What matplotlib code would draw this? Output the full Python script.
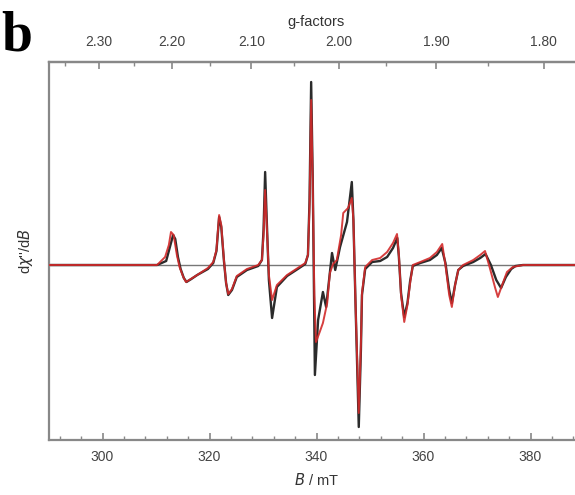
import matplotlib

matplotlib.use("Agg")
import matplotlib.pyplot as plt
from matplotlib.ticker import MultipleLocator, FixedLocator, FormatStrFormatter

# field values (mT) and derivative intensity (a.u.)
exp_field = [
    290.0, 300.0, 310.2, 311.9, 312.6, 313.2, 313.6, 314.1, 314.6, 315.2, 315.7,
    316.6, 317.7, 319.7, 320.7, 321.3, 321.8, 322.2, 322.7, 323.1, 323.5,
    324.2, 325.1, 327.0, 329.1, 329.8, 330.1, 330.4, 330.7, 331.1, 331.7,
    332.6, 334.5, 336.5, 337.9, 338.4, 338.7, 339.0, 339.3, 339.7, 340.3,
    341.2, 341.8, 342.9, 343.5, 344.4, 345.7, 346.6, 346.9, 347.3, 347.9,
    348.3, 348.5, 349.1, 350.4, 351.9, 353.2, 354.3, 355.1, 355.4, 355.8,
    356.4, 357.0, 357.5, 358.0, 359.4, 361.2, 362.5, 363.4, 364.1, 364.8,
    365.3, 365.9, 366.5, 367.4, 369.3, 370.6, 371.6, 372.6, 373.6, 374.5,
    375.4, 376.4, 377.2, 378.6, 390.0,
]
exp_signal = [
    0.00, 0.00, 0.00, 0.04, 0.18, 0.30, 0.26, 0.08, -0.04, -0.13, -0.17,
    -0.14, -0.10, -0.04, 0.02, 0.14, 0.48, 0.38, 0.04, -0.18, -0.30,
    -0.25, -0.12, -0.05, -0.01, 0.05, 0.35, 0.93, 0.45, -0.15, -0.53,
    -0.22, -0.11, -0.04, 0.01, 0.10, 0.65, 1.83, 0.85, -1.10, -0.55,
    -0.27, -0.42, 0.12, -0.05, 0.18, 0.43, 0.83, 0.45, -0.40, -1.62,
    -0.85, -0.30, -0.04, 0.03, 0.04, 0.08, 0.17, 0.27, 0.08, -0.28,
    -0.52, -0.38, -0.16, -0.01, 0.02, 0.05, 0.10, 0.17, 0.02, -0.25,
    -0.38, -0.20, -0.05, -0.01, 0.03, 0.07, 0.11, 0.00, -0.15, -0.23,
    -0.12, -0.04, -0.01, 0.00, 0.00,
]

sim_field = [
    290.0, 300.0, 310.2, 311.7, 312.4, 312.8, 313.3, 313.9, 314.4, 315.1, 315.6,
    316.5, 317.7, 319.7, 320.7, 321.3, 321.8, 322.2, 322.7, 323.1, 323.5,
    324.2, 325.1, 327.0, 329.1, 329.8, 330.1, 330.4, 330.7, 331.1, 331.7,
    332.6, 334.5, 336.5, 337.9, 338.4, 338.7, 339.0, 339.3, 339.6, 339.9,
    340.6, 341.2, 342.0, 342.5, 343.1, 343.8, 344.6, 345.0, 345.9, 346.6,
    346.9, 347.3, 347.9, 348.3, 348.5, 349.1, 350.4, 351.9, 353.2, 354.3,
    355.05, 355.4, 355.8, 356.4, 357.0, 357.5, 358.0, 359.4, 361.2, 362.5,
    363.5, 364.1, 364.8, 365.3, 365.9, 366.5, 367.4, 369.3, 370.6, 371.5,
    372.4, 373.4, 373.9, 374.7, 375.6, 376.7, 378.6, 390.0,
]
sim_signal = [
    0.00, 0.00, 0.00, 0.08, 0.20, 0.33, 0.30, 0.10, -0.02, -0.12, -0.17,
    -0.14, -0.10, -0.03, 0.03, 0.15, 0.50, 0.40, 0.05, -0.18, -0.29,
    -0.24, -0.11, -0.04, 0.00, 0.05, 0.30, 0.75, 0.40, -0.10, -0.35,
    -0.20, -0.10, -0.03, 0.02, 0.10, 0.60, 1.65, 0.80, -0.30, -0.77,
    -0.67, -0.58, -0.38, -0.08, 0.01, 0.05, 0.30, 0.52, 0.57, 0.67,
    0.45, -0.40, -1.48, -0.80, -0.28, -0.02, 0.05, 0.07, 0.13, 0.22,
    0.31, 0.10, -0.30, -0.57, -0.40, -0.18, 0.00, 0.03, 0.07, 0.13,
    0.21, 0.00, -0.30, -0.42, -0.20, -0.05, 0.00, 0.05, 0.10, 0.14,
    -0.03, -0.23, -0.32, -0.20, -0.07, -0.02, 0.00, 0.00,
]

g_ticks = [2.30, 2.20, 2.10, 2.00, 1.90, 1.80]
g_minor = [2.35, 2.25, 2.15, 2.05, 1.95, 1.85, 1.75]

# g * B (mT) for the X-band frequency used
G_CONST = 688.4


def b_to_g(b):
    return G_CONST / b


def g_to_b(g):
    return G_CONST / g


plt.rcParams.update({
    "font.family": "sans-serif",
    "font.sans-serif": ["Liberation Sans", "DejaVu Sans"],
    "font.size": 10,
    "text.color": "#333333",
    "axes.labelcolor": "#333333",
    "xtick.color": "#555555",
    "ytick.color": "#555555",
    "xtick.labelcolor": "#444444",
})

fig = plt.figure(figsize=(5.75, 4.95), dpi=100)
ax = fig.add_axes([49 / 575, 55 / 495, 535 / 575, 378 / 495])

spine_col = "#888888"
for s in ax.spines.values():
    s.set_color(spine_col)
    s.set_linewidth(1.6)

ax.axhline(0, color="#777777", lw=1.0, zorder=1)
ax.plot(exp_field, exp_signal, color="#2b2b2b", lw=1.7, zorder=2)
ax.plot(sim_field, sim_signal, color="#d22a2a", lw=1.4, alpha=0.9, zorder=3)

ax.set_xlim(290, 390)
ax.set_ylim(-1.75, 2.03)
ax.set_yticks([])
ax.xaxis.set_major_locator(MultipleLocator(20))
ax.xaxis.set_minor_locator(MultipleLocator(4))
ax.tick_params(axis="x", which="major", direction="in", length=5, width=1.2,
               pad=7, labelsize=10, color=spine_col)
ax.tick_params(axis="x", which="minor", direction="in", length=3, width=1.0,
               color=spine_col)
ax.set_xlabel("$\\mathit{B}$ / mT", fontsize=10.5, labelpad=6)
ax.set_ylabel("d$\\chi$''/d$\\mathit{B}$", fontsize=10.5, labelpad=10)

top = ax.secondary_xaxis("top", functions=(b_to_g, g_to_b))
top.spines["top"].set_color(spine_col)
top.spines["top"].set_linewidth(1.6)
top.xaxis.set_major_locator(FixedLocator(g_ticks))
top.xaxis.set_minor_locator(FixedLocator(g_minor))
top.xaxis.set_major_formatter(FormatStrFormatter("%.2f"))
top.tick_params(axis="x", which="major", direction="in", length=5, width=1.2,
                pad=9, labelsize=10, color=spine_col)
top.tick_params(axis="x", which="minor", direction="in", length=3, width=1.0,
                color=spine_col)
top.set_xlabel("g-factors", fontsize=10.5, labelpad=7)

fig.text(0.003, 0.978, "b", family="Liberation Serif", fontweight="bold",
         fontsize=40, va="top", ha="left", color="black")

fig.savefig("out.png", dpi=100)
plt.close(fig)
